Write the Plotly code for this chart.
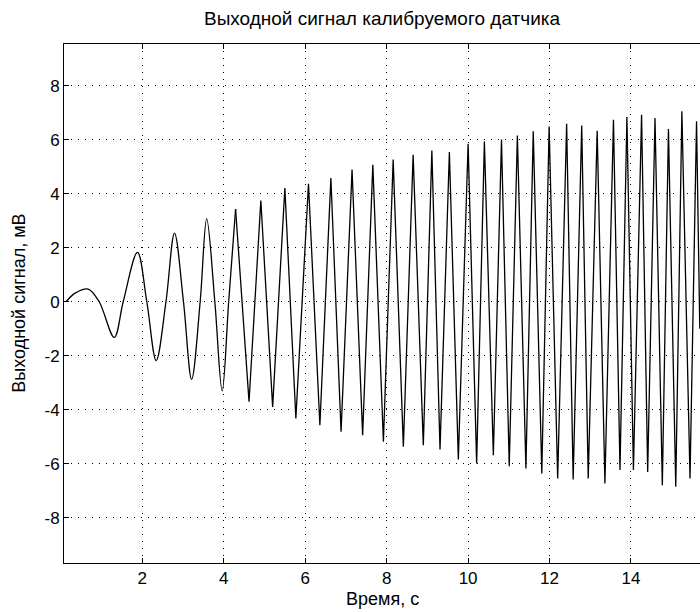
import plotly.graph_objects as go

# Early, smooth part of the signal (time, s / value, mV)
t_smooth = [0.125, 0.35, 0.67, 0.94, 1.31, 1.53, 1.88, 2.11, 2.34, 2.58, 2.79,
            3.01, 3.21, 3.42, 3.58, 3.78, 3.96, 4.12, 4.29]
v_smooth = [0.0, 0.32, 0.47, 0.0, -1.32, 0.0, 1.83, 0.0, -2.18, 0.0, 2.54,
            0.0, -2.87, 0.0, 3.07, 0.0, -3.30, 0.0, 3.43]

# Later part: successive peaks and troughs
t_fast = [4.29, 4.62, 4.91, 5.20, 5.50, 5.77, 6.08, 6.36, 6.63, 6.88, 7.15, 7.41,
          7.66, 7.92, 8.16, 8.41, 8.65, 8.90, 9.11, 9.31, 9.54, 9.76, 10.00, 10.21,
          10.40, 10.62, 10.82, 11.01, 11.21, 11.42, 11.60, 11.81, 11.99, 12.20,
          12.42, 12.58, 12.79, 12.95, 13.17, 13.36, 13.57, 13.73, 13.90, 14.06,
          14.26, 14.41, 14.59, 14.77, 14.92, 15.10, 15.25, 15.45, 15.61, 15.69]
v_fast = [3.43, -3.70, 3.75, -3.89, 4.21, -4.32, 4.37, -4.57, 4.58, -4.81, 4.89, -4.94,
          5.07, -5.18, 5.26, -5.37, 5.44, -5.31, 5.60, -5.47, 5.54, -5.84, 5.85, -5.99,
          5.93, -5.68, 6.00, -6.09, 6.15, -6.17, 6.31, -6.36, 6.49, -6.54,
          6.59, -6.58, 6.52, -6.54, 6.33, -6.73, 6.74, -6.23, 6.84, -6.23,
          6.92, -6.30, 6.80, -6.79, 6.39, -6.85, 7.05, -6.54, 6.68, -1.0]

x_ticks = [2, 4, 6, 8, 10, 12, 14]
y_ticks = [-8, -6, -4, -2, 0, 2, 4, 6, 8]

title_text = "Выходной сигнал калибруемого датчика"
x_title = "Время, с"
y_title = "Выходной сигнал, мВ"

FONT = "Liberation Sans"

fig = go.Figure()
fig.add_trace(go.Scatter(x=t_smooth, y=v_smooth, mode="lines",
                         line=dict(color="black", width=1.3, shape="spline"),
                         showlegend=False, hoverinfo="skip"))
fig.add_trace(go.Scatter(x=t_fast, y=v_fast, mode="lines",
                         line=dict(color="black", width=1.3),
                         showlegend=False, hoverinfo="skip"))

axis_common = dict(
    showgrid=True, gridcolor="black", gridwidth=1, griddash="1px,6px",
    zeroline=False, showline=True, linecolor="black", linewidth=1,
    ticks="inside", ticklen=5, tickcolor="black", tickwidth=1,
    tickfont=dict(family=FONT, size=17, color="black"),
)

fig.update_xaxes(range=[0.076, 15.695], tickvals=x_ticks,
                 ticktext=[str(v) for v in x_ticks], mirror="ticks", **axis_common)
fig.update_yaxes(range=[-9.67, 9.54], tickvals=y_ticks,
                 ticktext=[str(v) for v in y_ticks], mirror=False, **axis_common)

fig.update_layout(
    width=700, height=612,
    margin=dict(l=64, r=0, t=44, b=49),
    paper_bgcolor="white", plot_bgcolor="white",
    title=dict(text=title_text, x=0.5, xref="paper", y=1 - 18 / 612,
               yref="container", yanchor="middle",
               font=dict(family=FONT, size=19, color="black")),
    annotations=[
        dict(text=x_title, xref="paper", yref="paper", x=0.5, y=-0.07,
             xanchor="center", yanchor="middle", showarrow=False,
             font=dict(family=FONT, size=18, color="black")),
        dict(text=y_title, xref="paper", yref="paper", x=-0.072, y=0.5,
             xanchor="center", yanchor="middle", showarrow=False, textangle=-90,
             font=dict(family=FONT, size=18, color="black")),
    ],
)

fig.write_html("out.html",
               config={"displayModeBar": False},
               post_script="document.body.style.margin='0';"
                           "document.body.style.overflow='hidden';")
